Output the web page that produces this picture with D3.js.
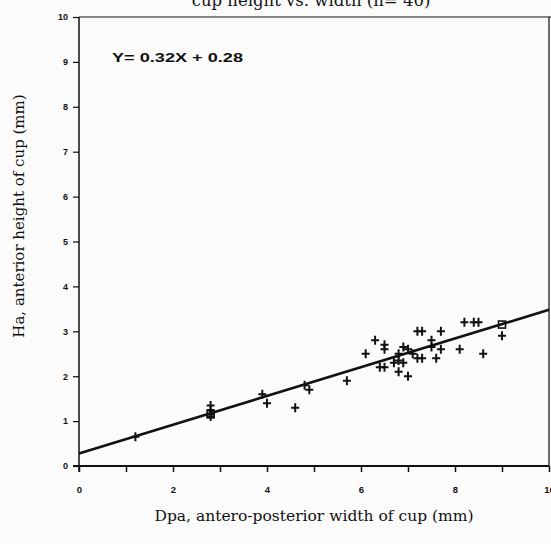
<!DOCTYPE html>
<html><head><meta charset="utf-8">
<script src="https://cdn.jsdelivr.net/npm/d3@7"></script>
<style>html,body{margin:0;padding:0;background:#fbfbfb;}svg{display:block;}</style>
</head><body>
<svg id="c" width="551" height="544"></svg>
<script>
const titleText = "cup height vs. width (n= 40)";
const xLabel = "Dpa,  antero-posterior width of cup (mm)";
const yLabel = "Ha, anterior height of cup  (mm)";
const equationText = "Y= 0.32X + 0.28";
const slope = 0.32, intercept = 0.28;
const xTicks = [0,1,2,3,4,5,6,7,8,9,10];
const xTickLabels = ["0","","2","","4","","6","","8","","10"];
const yTicks = [0,1,2,3,4,5,6,7,8,9,10];
const widthX = [1.2,2.8,2.8,2.8,2.8,3.9,4.0,4.6,4.8,4.9,5.7,6.1,6.3,6.5,6.5,6.4,6.5,6.7,6.8,6.8,6.9,7.0,6.9,6.8,7.0,7.2,7.3,7.2,7.3,7.1,7.5,7.5,7.7,7.7,7.6,8.1,8.2,8.4,8.5,8.6,9.0];
const heightY = [0.65,1.35,1.25,1.15,1.1,1.6,1.4,1.3,1.8,1.7,1.9,2.5,2.8,2.7,2.6,2.2,2.2,2.3,2.35,2.5,2.65,2.6,2.3,2.1,2.0,3.0,3.0,2.4,2.4,2.5,2.8,2.65,3.0,2.6,2.4,2.6,3.2,3.2,3.2,2.5,2.9];
const squareX = [9.0, 2.8];
const squareY = [3.15, 1.15];

const svg = d3.select("#c");
const ink = "#111";
const x = d3.scaleLinear().domain([0,10]).range([79,549]);
const y = d3.scaleLinear().domain([0,10]).range([466,17]);

// frame top & right
svg.append("line").attr("x1",x(0)).attr("x2",551).attr("y1",y(10)).attr("y2",y(10)).attr("stroke",ink).attr("stroke-width",1.2);
svg.append("line").attr("x1",x(10)).attr("x2",x(10)).attr("y1",y(10)).attr("y2",y(0)).attr("stroke",ink).attr("stroke-width",1.2);

// x axis
const xAxis = d3.axisBottom(x).tickValues(xTicks).tickSize(6).tickPadding(14)
  .tickFormat((d,i)=>xTickLabels[i]);
const gx = svg.append("g").attr("transform",`translate(0,${y(0)})`).call(xAxis);
gx.select(".domain").attr("stroke",ink).attr("stroke-width",2).attr("d",`M${x(0)-6},0H${x(10)}`);
gx.selectAll(".tick line").attr("stroke",ink).attr("stroke-width",1.5);
gx.selectAll("text").attr("fill",ink).style("font-family","Liberation Sans, Arial, sans-serif").style("font-weight","bold").style("font-size","9.5px");

// y axis
const yAxis = d3.axisLeft(y).tickValues(yTicks).tickSize(6).tickPadding(5).tickFormat(d3.format("d"));
const gy = svg.append("g").attr("transform",`translate(${x(0)},0)`).call(yAxis);
gy.select(".domain").attr("stroke",ink).attr("stroke-width",1.5).attr("d",`M0,${y(10)}V${y(0)+6}`);
gy.selectAll(".tick line").attr("stroke",ink).attr("stroke-width",1.2);
gy.selectAll("text").attr("fill",ink).style("font-family","Liberation Sans, Arial, sans-serif").style("font-weight","bold").style("font-size","9px");

// regression line
svg.append("line")
  .attr("x1",x(0)).attr("y1",y(intercept))
  .attr("x2",x(10)).attr("y2",y(intercept+slope*10))
  .attr("stroke",ink).attr("stroke-width",2.6);

// points (plus markers)
const pts = widthX.map((v,i)=>({x:v,y:heightY[i]}));
svg.append("g").selectAll("path").data(pts).enter().append("path")
  .attr("transform",d=>`translate(${x(d.x)},${y(d.y)})`)
  .attr("d","M-4,0H4M0,-4.5V4.5")
  .attr("stroke",ink).attr("stroke-width",2).attr("fill","none");

// square markers
const sq = squareX.map((v,i)=>({x:v,y:squareY[i]}));
svg.append("g").selectAll("rect").data(sq).enter().append("rect")
  .attr("x",d=>x(d.x)-3.5).attr("y",d=>y(d.y)-3.5).attr("width",7).attr("height",7)
  .attr("fill","none").attr("stroke",ink).attr("stroke-width",1.6);

// equation
svg.append("text").attr("x",112).attr("y",62).text(equationText)
  .attr("textLength",131).attr("lengthAdjust","spacingAndGlyphs")
  .attr("fill",ink).style("font-family","Liberation Sans, Arial, sans-serif").style("font-weight","bold").style("font-size","12px");

// title (cropped at top, as in the reference)
svg.append("text").attr("x",311).attr("y",6).attr("text-anchor","middle").text(titleText)
  .attr("fill",ink).style("font-family","DejaVu Serif, serif").style("font-size","16.5px");

// axis labels
svg.append("text").attr("x",314).attr("y",521).attr("text-anchor","middle").text(xLabel)
  .attr("fill",ink).style("font-family","DejaVu Serif, serif").style("font-size","15.5px");
svg.append("text").attr("transform","translate(24,216) rotate(-90)").attr("text-anchor","middle").text(yLabel)
  .attr("fill",ink).style("font-family","DejaVu Serif, serif").style("font-size","15px");
</script>
</body></html>
